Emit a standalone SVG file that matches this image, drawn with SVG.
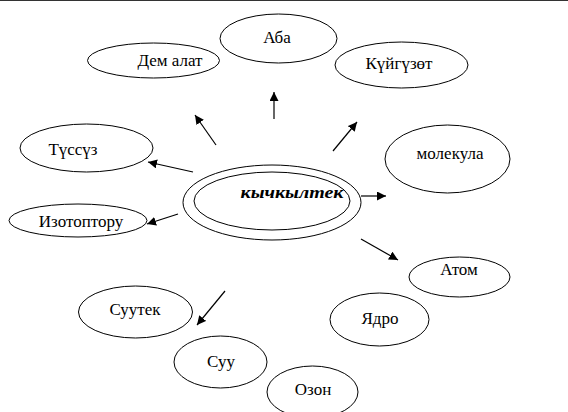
<svg xmlns="http://www.w3.org/2000/svg" width="568" height="412" viewBox="0 0 568 412">
<style>
.n ellipse{fill:#fff;stroke:#000;stroke-width:1}
.n text{font-family:"Liberation Serif","Times New Roman",serif;font-size:17px;fill:#000;text-anchor:middle}
.c line{stroke:#000;stroke-width:1.2;marker-end:url(#ah)}
.t{font-family:"DejaVu Sans","Liberation Sans",sans-serif;font-size:14px;font-weight:bold;font-style:italic;text-anchor:middle}
</style>
<defs>
<marker id="ah" viewBox="0 0 10 10" refX="10" refY="5" markerWidth="9" markerHeight="9" markerUnits="userSpaceOnUse" orient="auto">
<path d="M0,0 L10,5 L0,10 z" fill="#000"/>
</marker>
</defs>
<rect x="0" y="0" width="568" height="412" fill="#fff"/>
<rect x="0" y="0" width="568" height="1" fill="#333"/>
<g id="center" class="n">
<ellipse cx="272" cy="202.5" rx="89" ry="37.5"/>
<ellipse cx="272" cy="201" rx="78" ry="29"/>
<text class="t" x="292" y="198" textLength="103" lengthAdjust="spacingAndGlyphs">кычкылтек</text>
</g>
<g id="dem" class="n"><ellipse cx="153.5" cy="60.5" rx="66" ry="17.5"/><text x="170" y="66">Дем алат</text></g>
<g id="aba" class="n"><ellipse cx="278.5" cy="38.5" rx="58.5" ry="24.5"/><text x="277" y="43">Аба</text></g>
<g id="kuigu" class="n"><ellipse cx="401.5" cy="65" rx="66.5" ry="23"/><text x="399" y="69">Күйгүзөт</text></g>
<g id="tussuz" class="n"><ellipse cx="86.5" cy="148" rx="66.5" ry="24"/><text x="73" y="155">Түссүз</text></g>
<g id="molekula" class="n"><ellipse cx="447.5" cy="159" rx="62.5" ry="34"/><text x="450" y="159">молекула</text></g>
<g id="izotop" class="n"><ellipse cx="78" cy="220.5" rx="69" ry="16.5"/><text x="81" y="227">Изотоптору</text></g>
<g id="atom" class="n"><ellipse cx="459.5" cy="277" rx="50.5" ry="20"/><text x="459" y="275">Атом</text></g>
<g id="yadro" class="n"><ellipse cx="379.5" cy="319.5" rx="49.5" ry="26.5"/><text x="380" y="324">Ядро</text></g>
<g id="suutek" class="n"><ellipse cx="135.5" cy="312" rx="57" ry="26"/><text x="135" y="315">Суутек</text></g>
<g id="suu" class="n"><ellipse cx="220.5" cy="362" rx="46.5" ry="26"/><text x="221" y="367">Суу</text></g>
<g id="ozon" class="n"><ellipse cx="312.5" cy="392" rx="45.5" ry="26"/><text x="313" y="395">Озон</text></g>
<g id="connectors" class="c">
<line x1="274" y1="119" x2="274" y2="92"/>
<line x1="216" y1="145" x2="195" y2="115"/>
<line x1="333" y1="151" x2="357" y2="122"/>
<line x1="193" y1="172" x2="148" y2="162"/>
<line x1="178" y1="214" x2="147" y2="224"/>
<line x1="361" y1="196" x2="386" y2="196"/>
<line x1="361" y1="239" x2="398" y2="260"/>
<line x1="225" y1="291" x2="197" y2="325"/>
</g>
</svg>
